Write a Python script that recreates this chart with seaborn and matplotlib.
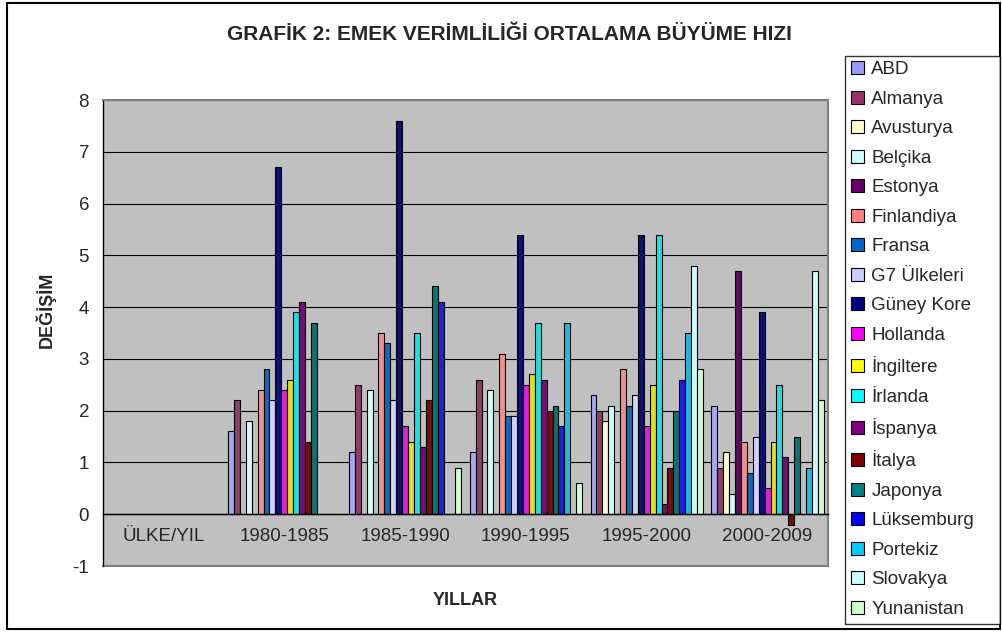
import numpy as np
import pandas as pd
import seaborn as sns
import matplotlib.pyplot as plt
from matplotlib.patches import Patch, Rectangle

nan = np.nan

periods = ['ÜLKE/YIL', '1980-1985', '1985-1990', '1990-1995', '1995-2000', '2000-2009']

abd        = [nan, 1.6, 1.2, 1.2, 2.3, 2.1]
almanya    = [nan, 2.2, 2.5, 2.6, 2.0, 0.9]
avusturya  = [nan, nan, nan, nan, 1.8, 1.2]
belcika    = [nan, 1.8, 2.4, 2.4, 2.1, 0.4]
estonya    = [nan, nan, nan, nan, nan, 4.7]
finlandiya = [nan, 2.4, 3.5, 3.1, 2.8, 1.4]
fransa     = [nan, 2.8, 3.3, 1.9, 2.1, 0.8]
g7         = [nan, 2.2, 2.2, 1.9, 2.3, 1.5]
guney_kore = [nan, 6.7, 7.6, 5.4, 5.4, 3.9]
hollanda   = [nan, 2.4, 1.7, 2.5, 1.7, 0.5]
ingiltere  = [nan, 2.6, 1.4, 2.7, 2.5, 1.4]
irlanda    = [nan, 3.9, 3.5, 3.7, 5.4, 2.5]
ispanya    = [nan, 4.1, 1.3, 2.6, 0.2, 1.1]
italya     = [nan, 1.4, 2.2, 2.0, 0.9, -0.2]
japonya    = [nan, 3.7, 4.4, 2.1, 2.0, 1.5]
luksemburg = [nan, nan, 4.1, 1.7, 2.6, nan]
portekiz   = [nan, nan, nan, 3.7, 3.5, 0.9]
slovakya   = [nan, nan, nan, nan, 4.8, 4.7]
yunanistan = [nan, nan, 0.9, 0.6, 2.8, 2.2]

countries = ['ABD', 'Almanya', 'Avusturya', 'Belçika', 'Estonya', 'Finlandiya',
             'Fransa', 'G7 Ülkeleri', 'Güney Kore', 'Hollanda', 'İngiltere',
             'İrlanda', 'İspanya', 'İtalya', 'Japonya', 'Lüksemburg', 'Portekiz',
             'Slovakya', 'Yunanistan']
series = [abd, almanya, avusturya, belcika, estonya, finlandiya, fransa, g7,
          guney_kore, hollanda, ingiltere, irlanda, ispanya, italya, japonya,
          luksemburg, portekiz, slovakya, yunanistan]
colors = ['#9999FF', '#993366', '#FFFFCC', '#CCFFFF', '#660066', '#FF8080',
          '#0066CC', '#CCCCFF', '#000080', '#FF00FF', '#FFFF00', '#00FFFF',
          '#800080', '#800000', '#008080', '#0000FF', '#00CCFF', '#CCFFFF',
          '#CCFFCC']

rows = []
for name, vals in zip(countries, series):
    for p, v in zip(periods, vals):
        rows.append({'period': p, 'country': name, 'value': v})
df = pd.DataFrame(rows)

sns.set_style('white')
plt.rcParams['font.family'] = ['Liberation Sans', 'DejaVu Sans']
plt.rcParams['axes.unicode_minus'] = False

fig = plt.figure(figsize=(10.03, 6.32), dpi=100)
ax = fig.add_axes([0.1027, 0.1044, 0.7228, 0.7373])
ax.set_facecolor('#C0C0C0')

sns.barplot(data=df, x='period', y='value', hue='country', order=periods,
            hue_order=countries, palette=colors, width=0.93, errorbar=None,
            edgecolor='black', linewidth=0.8, legend=False, ax=ax)

ax.set_xlim(-0.5, 5.5)
ax.set_ylim(-1, 8)
ax.set_yticks(range(-1, 9))
ax.yaxis.grid(True, color='black', linewidth=0.8)
ax.set_axisbelow(True)
ax.set_xlabel('')
ax.set_ylabel('')

ax.spines['left'].set_color('black')
ax.spines['left'].set_linewidth(1)
for s in ['top', 'right']:
    ax.spines[s].set_color('#808080')
    ax.spines[s].set_linewidth(1.5)
ax.spines['bottom'].set_position(('data', 0))
ax.spines['bottom'].set_color('black')
ax.spines['bottom'].set_linewidth(1)
ax.axhline(-1, color='#808080', linewidth=1.5, clip_on=False)

ax.set_xticks(range(len(periods)))
ax.set_xticklabels(periods)
ax.set_xticks([i + 0.5 for i in range(len(periods) - 1)], minor=True)
ax.tick_params(axis='x', which='major', length=0, pad=10, labelsize=13.5)
ax.tick_params(axis='x', which='minor', length=5, width=1, direction='out', color='black')
ax.tick_params(axis='y', length=5, width=1, direction='out', color='black', labelsize=13.5, pad=5)

fig.text(0.508, 0.945, 'GRAFİK 2: EMEK VERİMLİLİĞİ ORTALAMA BÜYÜME HIZI',
         ha='center', va='center', fontsize=15, fontweight='bold')
fig.text(0.045, 0.51, 'DEĞİŞİM', rotation=90, ha='center', va='center',
         fontsize=13, fontweight='bold')
fig.text(0.4636, 0.05, 'YILLAR', ha='center', va='center',
         fontsize=13, fontweight='bold')

handles = [Patch(facecolor=c, edgecolor='black', linewidth=0.8) for c in colors]
leg = fig.legend(handles, countries, loc='upper left',
                 bbox_to_anchor=(0.8425, 0.003, 0.1545, 0.909), mode='expand',
                 frameon=True, fancybox=False, edgecolor='black', fontsize=13.5,
                 labelspacing=0.66, handlelength=0.7, handleheight=0.7,
                 handletextpad=0.4, borderpad=0.3, borderaxespad=0)
leg.get_frame().set_linewidth(1)

fig.add_artist(Rectangle((0.007, 0.004), 0.99, 0.991, transform=fig.transFigure,
                         fill=False, edgecolor='black', linewidth=1.5))

fig.savefig('out.png', dpi=100)
